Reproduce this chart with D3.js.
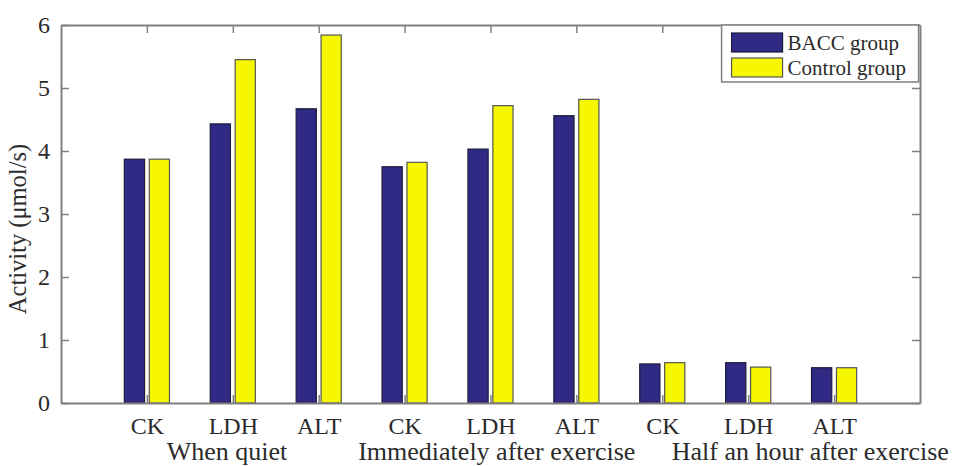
<!DOCTYPE html>
<html>
<head>
<meta charset="utf-8">
<script src="https://cdn.jsdelivr.net/npm/d3@7"></script>
<style>
  body { margin: 0; background: #fff; }
  text { font-family: "Liberation Serif", "Times New Roman", serif; fill: #2b2b2b; }
</style>
</head>
<body>
<div id="chart"></div>
<script>
// data
var categories = ["CK", "LDH", "ALT", "CK", "LDH", "ALT", "CK", "LDH", "ALT"];
var baccValues = [3.87, 4.43, 4.67, 3.75, 4.03, 4.56, 0.62, 0.64, 0.56];
var controlValues = [3.87, 5.45, 5.84, 3.82, 4.72, 4.82, 0.64, 0.57, 0.56];
var seriesNames = ["BACC group", "Control group"];
var seriesColors = ["#312a85", "#f7f700"];
var groupLabels = ["When quiet", "Immediately after exercise", "Half an hour after exercise"];
var groupLabelStart = [1.23, 3.46, 7.11]; // in category units
var yTicks = [0, 1, 2, 3, 4, 5, 6];

var W = 960, H = 466;
var margin = {top: 25, right: 40, bottom: 63, left: 61},
  width = W - margin.left - margin.right,
  height = H - margin.top - margin.bottom;

var svg = d3.select("#chart").append("svg")
  .attr("width", W).attr("height", H);
var g = svg.append("g").attr("transform", "translate(" + margin.left + "," + margin.top + ")");

// x in category units, 0..10 like matlab
var x = d3.scaleLinear().domain([0, 10]).range([0, width]);
var y = d3.scaleLinear().domain([0, 6]).range([height, 0]);

var barW = 0.235, offset = 0.145;
var axisColor = "#808080";

var rows = categories.map(function(c, i) { return {i: i + 1, vals: [baccValues[i], controlValues[i]]}; });

// bars
rows.forEach(function(r) {
  r.vals.forEach(function(v, s) {
    var cx = r.i + (s === 0 ? -offset : offset);
    g.append("rect")
      .attr("x", x(cx - barW / 2))
      .attr("y", y(v))
      .attr("width", x(barW) - x(0))
      .attr("height", y(0) - y(v))
      .attr("fill", seriesColors[s])
      .attr("stroke", s === 0 ? "#1a1a3a" : "#555")
      .attr("stroke-width", 1.2);
  });
});

// axes with inward ticks
var idx = d3.range(1, 10);
var xAxis = d3.axisBottom(x).tickValues(idx).tickSizeInner(-8).tickSizeOuter(0)
  .tickPadding(14).tickFormat(function(d) { return categories[d - 1]; });
var gx = g.append("g").attr("transform", "translate(0," + height + ")").call(xAxis);
var gxTop = g.append("g").call(d3.axisTop(x).tickValues(idx).tickSizeInner(-8).tickSizeOuter(0).tickFormat(""));
var gy = g.append("g").call(d3.axisLeft(y).tickValues(yTicks).tickSizeInner(-8).tickSizeOuter(0)
  .tickPadding(11).tickFormat(d3.format("d")));
var gyR = g.append("g").attr("transform", "translate(" + width + ",0)")
  .call(d3.axisRight(y).tickValues(yTicks).tickSizeInner(-8).tickSizeOuter(0).tickFormat(""));

[gx, gxTop, gy, gyR].forEach(function(a) {
  a.select(".domain").attr("stroke", axisColor).attr("stroke-width", 2);
  a.selectAll(".tick line").attr("stroke", axisColor).attr("stroke-width", 1.5);
  a.selectAll("text").attr("font-size", 24).attr("fill", "#2b2b2b")
    .style("font-family", "Liberation Serif");
});
gx.selectAll(".tick text").attr("dy", "0.71em");

// group labels
g.selectAll(".grp").data(groupLabels).join("text")
  .attr("class", "grp")
  .attr("x", function(d, i) { return x(groupLabelStart[i]); })
  .attr("y", height + 57)
  .attr("font-size", 26)
  .text(function(d) { return d; });

// y label
g.append("text")
  .attr("transform", "translate(-35," + (height / 2 + 15) + ") rotate(-90)")
  .attr("text-anchor", "middle")
  .attr("font-size", 24.5)
  .text("Activity (\u03bcmol/s)");

// legend
var lg = g.append("g").attr("transform", "translate(" + (x(7.69)) + ",0)");
lg.append("rect").attr("x", 0).attr("y", 0).attr("width", 197).attr("height", 57)
  .attr("fill", "#fff").attr("stroke", axisColor).attr("stroke-width", 1.5);
seriesNames.forEach(function(n, i) {
  lg.append("rect").attr("x", 10).attr("y", 8 + i * 25).attr("width", 51).attr("height", 19)
    .attr("fill", seriesColors[i]).attr("stroke", i === 0 ? "#1a1a3a" : "#555").attr("stroke-width", 1.2);
  lg.append("text").attr("x", 66).attr("y", 25 + i * 25).attr("font-size", 21).text(n);
});
</script>
</body>
</html>
